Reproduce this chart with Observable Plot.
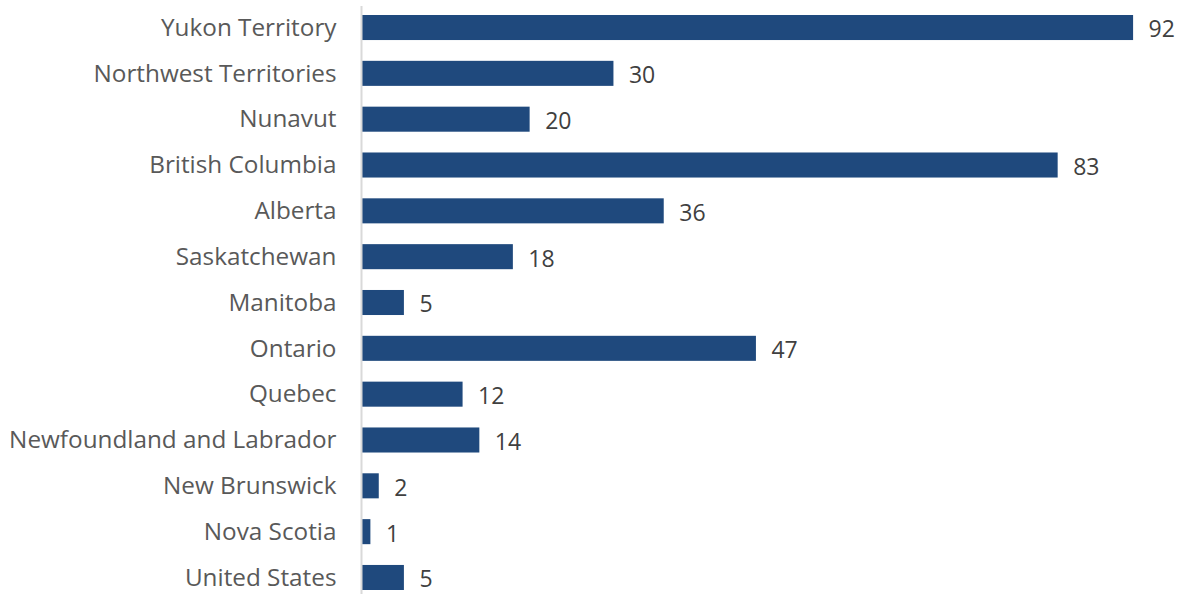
<!DOCTYPE html>
<html>
<head>
<meta charset="utf-8">
<script src="https://cdn.jsdelivr.net/npm/d3@7"></script>
<script src="https://cdn.jsdelivr.net/npm/@observablehq/plot@0.6"></script>
<style>
  html, body { margin: 0; padding: 0; background: #fff; }
  #chart svg { display: block; }
</style>
</head>
<body>
<div id="chart"></div>
<script>
const regions = [
  "Yukon Territory",
  "Northwest Territories",
  "Nunavut",
  "British Columbia",
  "Alberta",
  "Saskatchewan",
  "Manitoba",
  "Ontario",
  "Quebec",
  "Newfoundland and Labrador",
  "New Brunswick",
  "Nova Scotia",
  "United States"
];
const counts = [92, 30, 20, 83, 36, 18, 5, 47, 12, 14, 2, 1, 5];

const data = regions.map((r, i) => ({region: r, value: counts[i]}));

const chart = Plot.plot({
  width: 1182,
  height: 594,
  marginLeft: 362,
  marginRight: 7,
  marginTop: 15,
  marginBottom: 4,
  style: {fontFamily: "'Open Sans', sans-serif", fontSize: "24px", background: "#fff"},
  x: {domain: [0, 97], axis: null},
  y: {domain: regions, paddingInner: 0.4536, paddingOuter: 0, round: false, label: null},
  marks: [
    Plot.barX(data, {x: "value", y: "region", fill: "#1f497d"}),
    Plot.ruleX([0], {stroke: "#d9d9d9", strokeWidth: 2, dx: -1, insetTop: -9, insetBottom: -4}),
    Plot.axisY({tickSize: 0, tickPadding: 26, fill: "#595959", fontSize: 24.3, label: null}),
    Plot.text(data, {x: "value", y: "region", text: d => String(d.value), textAnchor: "start", dx: 15, dy: 2, fill: "#404040", fontSize: 23})
  ]
});
document.getElementById("chart").appendChild(chart);
</script>
</body>
</html>
